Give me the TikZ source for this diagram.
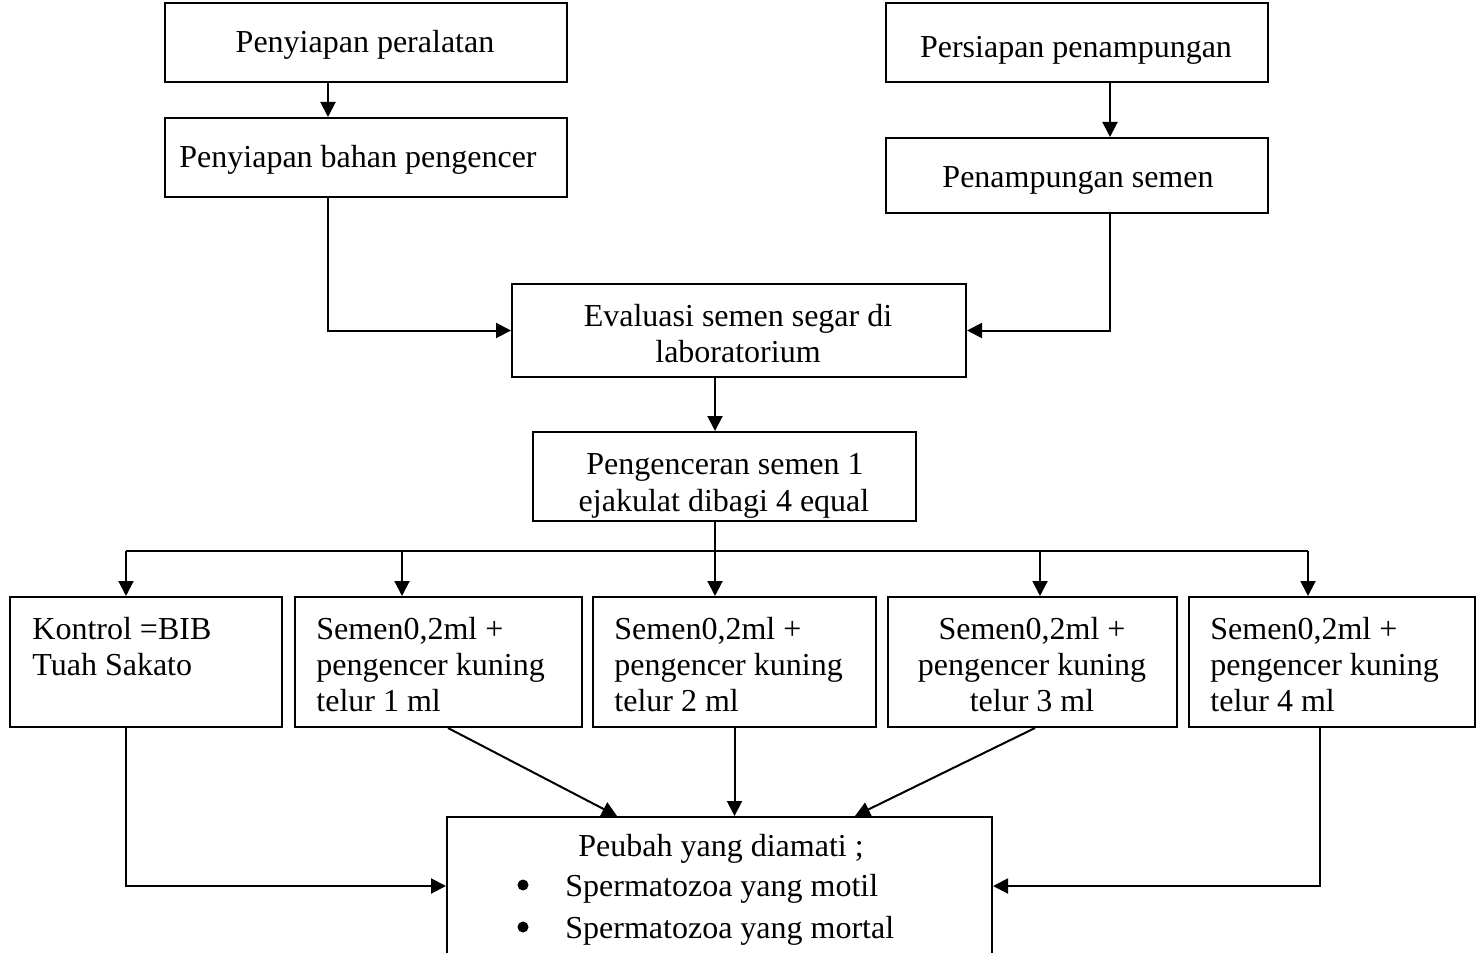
\documentclass[tikz,border=0pt]{standalone}
\usepackage{fontspec}
\setmainfont{Liberation Serif}
\usetikzlibrary{arrows.meta,calc}
\begin{document}
\begin{tikzpicture}[x=0.5pt,y=-0.5pt,
 box/.style={draw, line width=1pt, inner sep=0pt, rectangle},
 txt/.style={inner sep=0pt, font=\fontsize{16}{18.4}\selectfont},
 ctr/.style={txt, anchor=base},
 lft/.style={txt, anchor=base west},
 bullet/.style={circle, fill, inner sep=0pt, minimum size=5.5pt},
 conn/.style={line width=1pt},
 arr/.style={conn, -{Triangle[length=7.5pt,width=7.5pt]}}]
\useasboundingbox (0,0) rectangle (1476,952);
\clip (0,0) rectangle (1476,952);
% boxes
\node[box, minimum width=201pt, minimum height=39.5pt] (A) at (366,42.5) {};
\node[box, minimum width=201pt, minimum height=39.5pt] (B) at (366,157.5) {};
\node[box, minimum width=191pt, minimum height=39.5pt] (C) at (1077,42.5) {};
\node[box, minimum width=191pt, minimum height=37.5pt] (D) at (1077,175.5) {};
\node[box, minimum width=227pt, minimum height=46.5pt] (E) at (739,330.5) {};
\node[box, minimum width=191.5pt, minimum height=44.5pt] (F) at (724.5,476.5) {};
\node[box, minimum width=136pt, minimum height=65pt] (K1) at (146,662) {};
\node[box, minimum width=143.5pt, minimum height=65pt] (K2) at (438.5,662) {};
\node[box, minimum width=141.5pt, minimum height=65pt] (K3) at (734.5,662) {};
\node[box, minimum width=144.5pt, minimum height=65pt] (K4) at (1032.5,662) {};
\node[box, minimum width=143pt, minimum height=65pt] (K5) at (1332,662) {};
\node[box, minimum width=272.5pt, minimum height=69pt] (P) at (719.5,886) {};
% texts
\node[ctr] (tA) at (365,53) {Penyiapan peralatan};
\node[ctr] (tB) at (358,168) {Penyiapan bahan pengencer};
\node[ctr] (tC) at (1076,58) {Persiapan penampungan};
\node[ctr] (tD) at (1078,188) {Penampungan semen};
\node[ctr] (tE1) at (738,326) {Evaluasi semen segar di};
\node[ctr] (tE2) at (738,362) {laboratorium};
\node[ctr] (tF1) at (725,474) {Pengenceran semen 1};
\node[ctr] (tF2) at (724,511) {ejakulat dibagi 4 equal};
\node[lft] (t11) at (32,639) {Kontrol =BIB};
\node[lft] (t12) at (32,675) {Tuah Sakato};
\node[lft] (t21) at (316,639) {Semen0,2ml +};
\node[lft] (t22) at (316,675) {pengencer kuning};
\node[lft] (t23) at (316,711) {telur 1 ml};
\node[lft] (t31) at (614,639) {Semen0,2ml +};
\node[lft] (t32) at (614,675) {pengencer kuning};
\node[lft] (t33) at (614,711) {telur 2 ml};
\node[ctr] (t41) at (1032,639) {Semen0,2ml +};
\node[ctr] (t42) at (1032,675) {pengencer kuning};
\node[ctr] (t43) at (1032,711) {telur 3 ml};
\node[lft] (t51) at (1210,639) {Semen0,2ml +};
\node[lft] (t52) at (1210,675) {pengencer kuning};
\node[lft] (t53) at (1210,711) {telur 4 ml};
\node[ctr] (tP) at (721,856) {Peubah yang diamati ;};
\node[bullet] (bu1) at (523,885) {};
\node[lft] (tP1) at (565,896) {Spermatozoa yang motil};
\node[bullet] (bu2) at (523,927) {};
\node[lft] (tP2) at (565,938) {Spermatozoa yang mortal};
% column coordinates
\coordinate (xa) at (328,0);
\coordinate (xc) at (1110,0);
\coordinate (b1) at (126,551);
\coordinate (b2) at (402,551);
\coordinate (b3) at (715,551);
\coordinate (b4) at (1040,551);
\coordinate (b5) at (1308,551);
\coordinate (x5) at (1320,0);
% connectors
\draw[arr] (A.south -| xa) -- (B.north -| xa);
\draw[arr] (B.south -| xa) |- (E.west);
\draw[arr] (C.south -| xc) -- (D.north -| xc);
\draw[arr] (D.south -| xc) |- (E.east);
\draw[arr] (E.south -| b3) -- (F.north -| b3);
\draw[conn] (F.south -| b3) -- (b3);
\draw[conn] (b1) -- (b5);
\draw[arr] (b1) -- (K1.north -| b1);
\draw[arr] (b2) -- (K2.north -| b2);
\draw[arr] (b3) -- (K3.north -| b3);
\draw[arr] (b4) -- (K4.north -| b4);
\draw[arr] (b5) -- (K5.north -| b5);
\draw[arr] (K1.south -| b1) |- (P.west);
\draw[arr] ([xshift=4.75pt]K2.south) -- ([xshift=-51.25pt]P.north);
\draw[arr] (K3.south) -- (K3.south |- P.north);
\draw[arr] ([xshift=1.25pt]K4.south) -- ([xshift=67.75pt]P.north);
\draw[arr] (K5.south -| x5) |- (P.east);
\end{tikzpicture}
\end{document}
